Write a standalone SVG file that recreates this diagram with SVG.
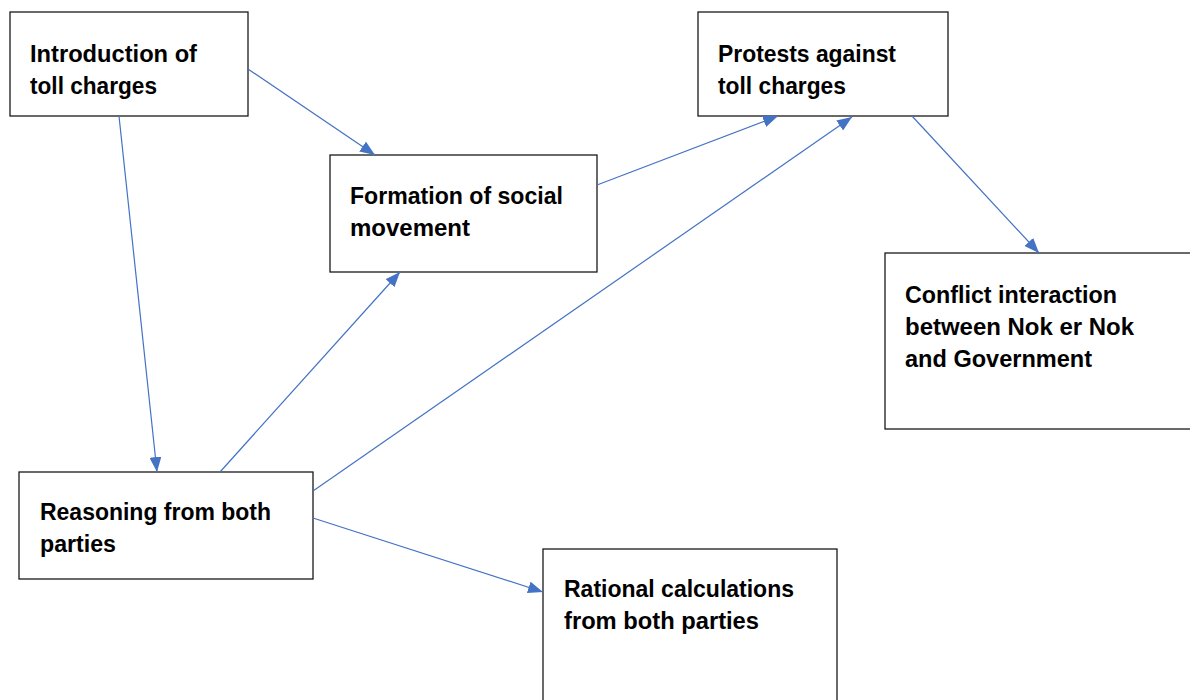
<svg xmlns="http://www.w3.org/2000/svg" width="1190" height="700" viewBox="0 0 1190 700">
  <style>
    .box { fill: #ffffff; stroke: #1a1a1a; stroke-width: 1.3; }
    .lbl { font-family: "Liberation Sans", Arial, sans-serif; font-weight: bold; font-size: 23px; fill: #000000; }
    .edge { fill: none; stroke: #4472C4; stroke-width: 1.2; marker-end: url(#arrow); }
  </style>
  <defs>
    <marker id="arrow" markerUnits="userSpaceOnUse" markerWidth="16" markerHeight="12" refX="15" refY="6" orient="auto">
      <path d="M0,0 L15,6 L0,12 Z" fill="#4472C4"/>
    </marker>
  </defs>
  <rect width="1190" height="700" fill="#ffffff"/>

  <g id="node-introduction">
    <rect class="box" x="10" y="12" width="238" height="104"/>
    <text class="lbl" x="30" y="62" textLength="167" lengthAdjust="spacingAndGlyphs">Introduction of</text>
    <text class="lbl" x="30" y="94" textLength="127" lengthAdjust="spacingAndGlyphs">toll charges</text>
  </g>

  <g id="node-formation">
    <rect class="box" x="330" y="155" width="267" height="117"/>
    <text class="lbl" x="350" y="204" textLength="213" lengthAdjust="spacingAndGlyphs">Formation of social</text>
    <text class="lbl" x="350" y="236" textLength="120" lengthAdjust="spacingAndGlyphs">movement</text>
  </g>

  <g id="node-protests">
    <rect class="box" x="698" y="12" width="250" height="104"/>
    <text class="lbl" x="718" y="62" textLength="178" lengthAdjust="spacingAndGlyphs">Protests against</text>
    <text class="lbl" x="718" y="94" textLength="128" lengthAdjust="spacingAndGlyphs">toll charges</text>
  </g>

  <g id="node-conflict">
    <rect class="box" x="885" y="253" width="320" height="176"/>
    <text class="lbl" x="905" y="303" textLength="212" lengthAdjust="spacingAndGlyphs">Conflict interaction</text>
    <text class="lbl" x="905" y="335" textLength="229" lengthAdjust="spacingAndGlyphs">between Nok er Nok</text>
    <text class="lbl" x="905" y="367" textLength="187" lengthAdjust="spacingAndGlyphs">and Government</text>
  </g>

  <g id="node-reasoning">
    <rect class="box" x="19" y="472" width="294" height="107"/>
    <text class="lbl" x="40" y="520" textLength="231" lengthAdjust="spacingAndGlyphs">Reasoning from both</text>
    <text class="lbl" x="40" y="552" textLength="76" lengthAdjust="spacingAndGlyphs">parties</text>
  </g>

  <g id="node-rational">
    <rect class="box" x="543" y="549" width="294" height="170"/>
    <text class="lbl" x="564" y="597" textLength="230" lengthAdjust="spacingAndGlyphs">Rational calculations</text>
    <text class="lbl" x="564" y="629" textLength="195" lengthAdjust="spacingAndGlyphs">from both parties</text>
  </g>

  <g id="connectors">
    <line class="edge" x1="248" y1="69" x2="375" y2="155"/>
    <line class="edge" x1="119" y1="116" x2="157" y2="472"/>
    <line class="edge" x1="220" y1="472" x2="400" y2="272"/>
    <line class="edge" x1="597" y1="185" x2="778" y2="116"/>
    <line class="edge" x1="313" y1="491" x2="852" y2="117"/>
    <line class="edge" x1="912" y1="116" x2="1039" y2="253"/>
    <line class="edge" x1="313" y1="518" x2="543" y2="592"/>
  </g>
</svg>
